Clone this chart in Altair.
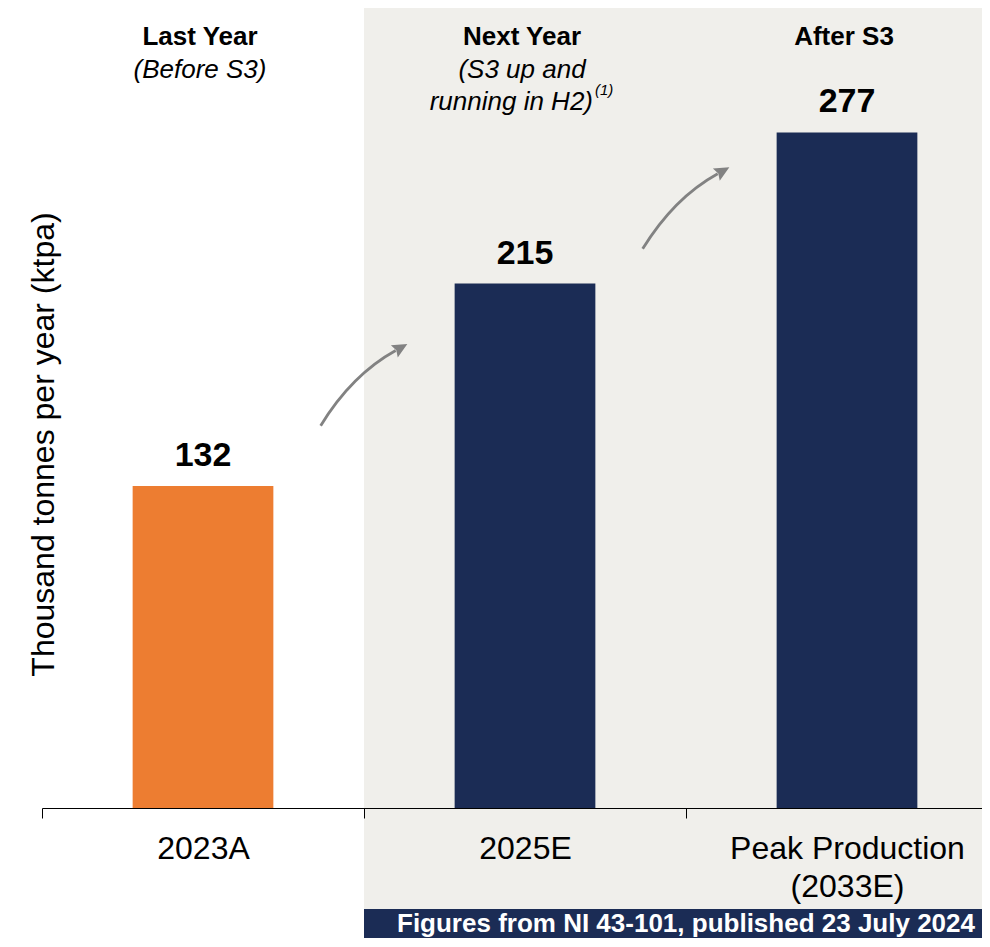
import altair as alt
import pandas as pd

# ---- data ----
categories = ["2023A", "2025E", "Peak Production (2033E)"]
values = [132, 215, 277]
bar_colors = ["#ED7D31", "#1B2C55", "#1B2C55"]
header_titles = ["Last Year", "Next Year", "After S3"]
header_notes = ["(Before S3)", "(S3 up and", ""]
header_notes_2 = ["", "running in H2)", ""]
footnote_mark = "(1)"
shaded_categories = ["2025E", "Peak Production (2033E)"]
source_note = "Figures from NI 43-101, published 23 July 2024"
y_title = "Thousand tonnes per year (ktpa)"

FONT = "Liberation Sans"
GRAY = "#828282"
SHADE = "#F0EFEB"
NAVY = "#1B2C55"

df = pd.DataFrame({"cat": categories, "value": values})
df_h = pd.DataFrame({"cat": categories, "t1": header_titles,
                     "t2": header_notes, "t3": header_notes_2})
df_shade = pd.DataFrame({"cat": shaded_categories})
df_src = pd.DataFrame({"cat": [shaded_categories[0]], "t": [source_note]})
df_arrow = pd.DataFrame({
    "cat": categories[1:],
    "mid": [(values[i] + values[i + 1]) / 2 for i in range(len(values) - 1)],
})

PLOT_H = 800
TOTAL_H = 930
BANNER_TOP = 901
x_scale = alt.Scale(type="band", domain=categories, range=[0, 966],
                    paddingInner=0, paddingOuter=0)
y_scale = alt.Scale(domain=[0, PLOT_H / 2.439], nice=False, zero=True)

label_expr = ("indexof(datum.label, ' (') > 0 ? "
              "[slice(datum.label, 0, indexof(datum.label, ' (')), "
              "slice(datum.label, indexof(datum.label, ' (') + 1)] : datum.label")

x_axis = alt.Axis(
    labelExpr=label_expr, labelAngle=0, labelFontSize=32, labelColor="black",
    labelFont=FONT, labelPadding=15, labelLineHeight=38, labelLimit=0,
    labelOverlap=False, tickBand="extent", tickSize=10, tickColor="black",
    tickWidth=1, domainColor="black", domainWidth=1, grid=False, zindex=1,
    title=None,
)
y_axis = alt.Axis(
    title=y_title, labels=False, ticks=False, domain=False, grid=False,
    titleFontSize=32, titleFontWeight="normal", titleColor="black",
    titleFont=FONT, titleAngle=270, titleX=1, titleY=436,
    titleAlign="center", titleBaseline="middle", zindex=1,
)


def xn(**kw):
    return alt.X("cat:N", scale=x_scale, axis=x_axis, title=None, **kw)


def yq(field):
    return alt.Y(field, scale=y_scale, axis=y_axis, title=y_title)


bg = alt.Chart(df_shade).mark_rect(color=SHADE).encode(
    x=xn(), y=alt.value(0), y2=alt.value(BANNER_TOP))

banner = alt.Chart(df_shade).mark_rect(color=NAVY).encode(
    x=xn(), y=alt.value(BANNER_TOP), y2=alt.value(960))

bars = alt.Chart(df).mark_bar(width=alt.RelativeBandSize(0.437)).encode(
    x=xn(),
    y=yq("value:Q"),
    color=alt.Color("cat:N", scale=alt.Scale(domain=categories, range=bar_colors),
                    legend=None),
)

value_labels = alt.Chart(df).mark_text(
    dy=-20, fontSize=34, fontWeight="bold", baseline="alphabetic",
    font=FONT, color="black").encode(
    x=xn(), y=yq("value:Q"), text="value:Q")

CURVE = "M -0.985 0.928 Q -0.2775 -0.229 0.72 -0.78"
HEAD = "M 0.985 -0.928 L 0.767 -0.622 L 0.734 -0.786 L 0.611 -0.900 Z"

arrow_curve = alt.Chart(df_arrow).mark_point(
    shape=CURVE, size=7744, filled=False, strokeWidth=2.8, color=GRAY,
    opacity=1).encode(x=xn(bandPosition=0), y=yq("mid:Q"))

arrow_head = alt.Chart(df_arrow).mark_point(
    shape=HEAD, size=7744, filled=True, strokeWidth=0, color=GRAY,
    opacity=1).encode(x=xn(bandPosition=0), y=yq("mid:Q"))

h1 = alt.Chart(df_h).mark_text(
    fontSize=26, fontWeight="bold", baseline="alphabetic", dx=-3,
    font=FONT, color="black").encode(x=xn(), y=alt.value(37), text="t1:N")

h2 = alt.Chart(df_h).mark_text(
    fontSize=26, fontStyle="italic", baseline="alphabetic", dx=-3,
    font=FONT, color="black").encode(x=xn(), y=alt.value(70), text="t2:N")

h3 = alt.Chart(df_h).transform_filter("datum.t3 != ''").mark_text(
    fontSize=26, fontStyle="italic", baseline="alphabetic", align="right",
    dx=68, font=FONT, color="black").encode(x=xn(), y=alt.value(102), text="t3:N")

fn = alt.Chart(df_h).transform_filter("datum.t3 != ''").mark_text(
    fontSize=15, fontStyle="italic", baseline="alphabetic", align="left",
    dx=70, font=FONT, color="black").encode(
    x=xn(), y=alt.value(87), text=alt.value(footnote_mark))

src_text = alt.Chart(df_src).mark_text(
    fontSize=26, fontWeight="bold", baseline="alphabetic", align="center",
    font=FONT, color="white").encode(
    x=xn(bandPosition=1), y=alt.value(924), text="t:N")

chart = alt.layer(
    bg, banner, bars, value_labels, arrow_curve, arrow_head,
    h1, h2, h3, fn, src_text,
).properties(
    width=940, height=PLOT_H,
    padding={"left": 34, "top": 0, "right": 0, "bottom": TOTAL_H - PLOT_H},
    autosize=alt.AutoSizeParams(type="none"),
    background="white",
).configure(font=FONT).configure_view(strokeWidth=0)

chart.save("out.html", embed_options={"renderer": "svg", "actions": False})
